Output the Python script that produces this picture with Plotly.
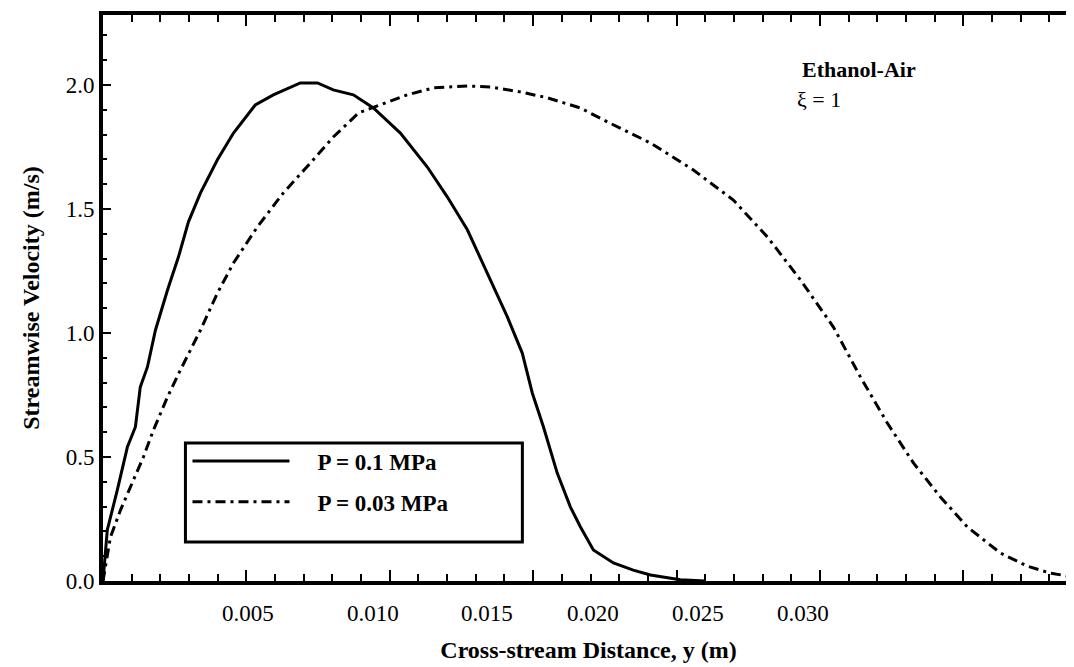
import plotly.graph_objects as go

# cross-stream distance y (m) and streamwise velocity (m/s)
y_p01 = [0.0, 0.00015, 0.00050, 0.00085, 0.00113, 0.00130, 0.00155, 0.00183,
         0.00225, 0.00263, 0.00298, 0.00340, 0.00399, 0.00455, 0.00531, 0.00594,
         0.00688, 0.00748, 0.00803, 0.00873, 0.00943, 0.01037, 0.01131, 0.01201,
         0.01271, 0.01340, 0.01410, 0.01462, 0.01497, 0.01536, 0.01584, 0.01630,
         0.01665, 0.01710, 0.01780, 0.01849, 0.01909, 0.02013, 0.02100]
u_p01 = [0.0, 0.206, 0.367, 0.540, 0.621, 0.782, 0.863, 1.012,
         1.173, 1.306, 1.448, 1.565, 1.698, 1.806, 1.919, 1.960,
         2.008, 2.008, 1.980, 1.960, 1.907, 1.806, 1.669, 1.548,
         1.415, 1.242, 1.065, 0.919, 0.758, 0.621, 0.435, 0.298,
         0.218, 0.125, 0.073, 0.044, 0.024, 0.005, 0.0]

y_p003 = [0.0, 0.00026, 0.00061, 0.00106, 0.00141, 0.00176, 0.00225, 0.00270,
          0.00340, 0.00399, 0.00455, 0.00538, 0.00629, 0.00723, 0.00803, 0.00891,
          0.00967, 0.01061, 0.01152, 0.01271, 0.01351, 0.01455, 0.01550, 0.01665,
          0.01759, 0.01849, 0.01909, 0.02059, 0.02198, 0.02317, 0.02432, 0.02547,
          0.02641, 0.02735, 0.02826, 0.02920, 0.03014, 0.03129, 0.03223, 0.03303,
          0.03384]
u_p003 = [0.0, 0.177, 0.286, 0.407, 0.500, 0.609, 0.742, 0.851,
          1.012, 1.161, 1.282, 1.427, 1.565, 1.685, 1.790, 1.887,
          1.919, 1.960, 1.988, 1.996, 1.992, 1.972, 1.948, 1.907,
          1.851, 1.798, 1.766, 1.657, 1.536, 1.387, 1.214, 1.024,
          0.823, 0.637, 0.476, 0.339, 0.218, 0.113, 0.060, 0.032,
          0.016]

x_labels = ["0.005", "0.010", "0.015", "0.020", "0.025", "0.030"]
# where the original figure printed its x labels (they drift from the ticks)
x_label_pos = [0.00504, 0.00943, 0.01340, 0.01710, 0.02076, 0.02442]

FONT = "Liberation Serif, Times New Roman, serif"

fig = go.Figure()

fig.add_trace(go.Scatter(
    x=y_p01, y=u_p01, mode="lines", name="\u2003P = 0.1 MPa", legendgroup="a",
    line=dict(color="black", width=3)))

fig.add_trace(go.Scatter(
    x=y_p003, y=u_p003, mode="lines", name="\u2003P = 0.03 MPa", legendgroup="b",
    line=dict(color="black", width=3, dash="10px,5px,3px,5px")))

# x labels sit under the axis where the original printed them
label_notes = [
    dict(text=t, x=v, xref="x", y=-0.058, yref="paper", yanchor="middle",
         showarrow=False, font=dict(size=23))
    for t, v in zip(x_labels, x_label_pos)
]

# the page body has an 8px margin, so the figure is 8px smaller than the window
fig.update_layout(
    template="none",
    width=1066, height=659,
    margin=dict(l=95, r=0, t=7, b=86),
    plot_bgcolor="white", paper_bgcolor="white",
    font=dict(family=FONT, color="black", size=20),
    xaxis=dict(
        range=[0, 0.03386], showgrid=False, zeroline=False, automargin=False,
        showline=True, linecolor="black", linewidth=4, mirror="ticks",
        ticks="inside", ticklen=11, tickwidth=2, tickcolor="black",
        tick0=0, dtick=0.005, showticklabels=False,
        minor=dict(ticks="inside", ticklen=7, tickwidth=2, tickcolor="black", dtick=0.001),
        title=dict(text="Cross-stream Distance, y (m)", standoff=58,
                   font=dict(size=24, weight="bold")),
    ),
    yaxis=dict(
        range=[0, 2.282], showgrid=False, zeroline=False, automargin=False,
        showline=True, linecolor="black", linewidth=4, mirror="ticks",
        ticks="inside", ticklen=8, tickwidth=2, tickcolor="black",
        tick0=0, dtick=0.5, tickformat=".1f", tickfont=dict(size=23),
        minor=dict(ticks="inside", ticklen=4, tickwidth=2, tickcolor="black", dtick=0.1),
        title=dict(text="Streamwise Velocity (m/s)", standoff=20,
                   font=dict(size=24, weight="bold")),
    ),
    legend=dict(
        x=0.087, y=0.250, xanchor="left", yanchor="top",
        bgcolor="rgba(0,0,0,0)", borderwidth=0,
        font=dict(size=23, weight="bold"), itemwidth=97,
        tracegroupgap=8,
    ),
    shapes=[
        # frame round the legend
        dict(type="rect", xref="paper", yref="paper",
             x0=0.0849, x1=0.4319, y0=0.0689, y1=0.2438,
             line=dict(color="black", width=3), fillcolor="white", layer="below"),
    ],
    annotations=label_notes + [
        dict(text="Ethanol-Air", x=0.718, y=0.904, xref="paper", yref="paper",
             xanchor="left", yanchor="middle", showarrow=False,
             font=dict(size=22, weight="bold")),
        dict(text="ξ = 1", x=0.713, y=0.851, xref="paper", yref="paper",
             xanchor="left", yanchor="middle", showarrow=False,
             font=dict(size=22)),
    ],
)

fig.write_html("out.html")
